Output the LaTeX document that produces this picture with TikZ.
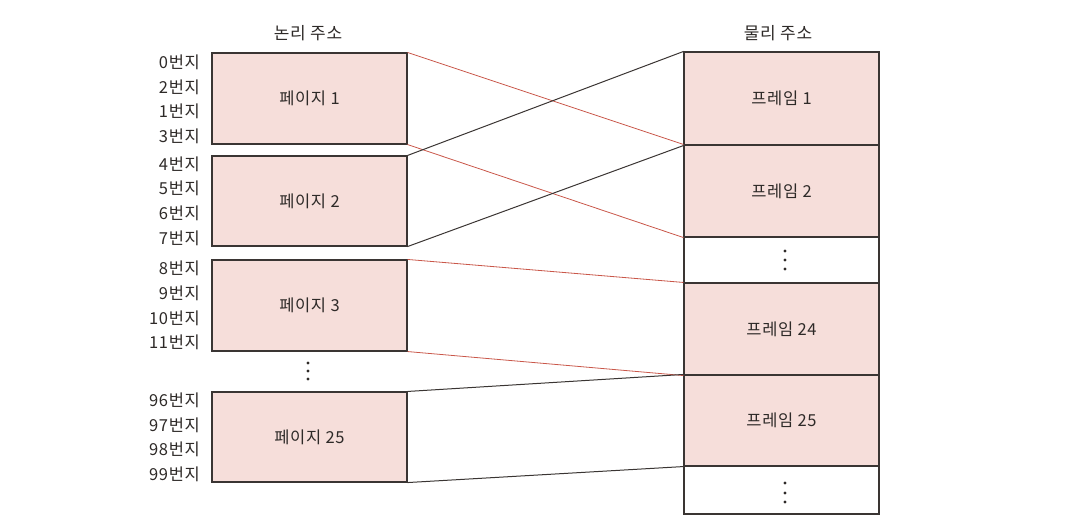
\documentclass[tikz,border=0pt]{standalone}
\usepackage{fontspec}
\setmainfont{Noto Sans CJK KR}[LetterSpace=4]
\definecolor{boxfill}{HTML}{F6DEDA}
\definecolor{boxline}{HTML}{3A3533}
\definecolor{redline}{HTML}{C9574A}
\definecolor{txt}{HTML}{2E2A28}
\begin{document}
\begin{tikzpicture}[x=1pt,y=-1pt,
  mem/.style={draw=boxline,line width=1.1pt,fill=boxfill,minimum width=195pt,inner sep=0pt,font=\fontsize{16.5}{18}\selectfont,text=txt},
  gap/.style={draw=boxline,line width=1.1pt,fill=white,minimum width=195pt,inner sep=0pt},
  addr/.style={anchor=east,font=\fontsize{16.5}{18}\selectfont,text=txt,inner sep=0pt},
  head/.style={font=\fontsize{17}{19}\selectfont,text=txt},
  rl/.style={draw=redline,line width=0.8pt},
  bl/.style={draw=boxline,line width=1pt},
  dot/.style={circle,fill=txt,inner sep=0pt,minimum size=3.4pt}]
\useasboundingbox (0,0) rectangle (1078,528);
% headings
\node[head] (hl) at (308,33) {논리 주소};
\node[head] (hr) at (778,33) {물리 주소};
% logical pages
\node[mem,minimum height=91pt] (p1) at (309.5,98.5) {페이지 1};
\node[mem,minimum height=90pt] (p2) at (309.5,201) {페이지 2};
\node[mem,minimum height=91pt] (p3) at (309.5,305.5) {페이지 3};
\node[mem,minimum height=90pt] (p25) at (309.5,437) {페이지 25};
% physical frames
\node[mem,minimum height=93pt] (f1) at (781.5,98.5) {프레임 1};
\node[mem,minimum height=92pt] (f2) at (781.5,191) {프레임 2};
\node[gap,minimum height=46pt] (g1) at (781.5,260) {};
\node[mem,minimum height=92pt] (f24) at (781.5,329) {프레임 24};
\node[mem,minimum height=91pt] (f25) at (781.5,420.5) {프레임 25};
\node[gap,minimum height=48pt] (g2) at (781.5,490) {};
% dots
\foreach \i/\y in {a/363,b/371,c/379} \node[dot] (ld\i) at (308,\y) {};
\foreach \i/\y in {a/251,b/260,c/269} \node[dot] (rd\i) at (785,\y) {};
\foreach \i/\y in {a/483,b/493,c/502} \node[dot] (re\i) at (785,\y) {};
% addresses
\foreach \t/\y [count=\k] in {0번지/62,2번지/87,1번지/111,3번지/136,4번지/164,5번지/188,6번지/213,7번지/238,8번지/268,9번지/293,10번지/318,11번지/342,96번지/400,97번지/425,98번지/449,99번지/474}
  \node[addr] (a\k) at (200,\y) {\t};
% connectors
\draw[rl] (p1.north east) -- (f2.north west);
\draw[rl] (p1.south east) -- (f2.south west);
\draw[bl] (p2.north east) -- (f1.north west);
\draw[bl] (p2.south east) -- (f1.south west);
\draw[rl] (p3.north east) -- (f24.north west);
\draw[rl] (p3.south east) -- (f24.south west);
\draw[bl] (p25.north east) -- (f25.north west);
\draw[bl] (p25.south east) -- (f25.south west);
\end{tikzpicture}
\end{document}
